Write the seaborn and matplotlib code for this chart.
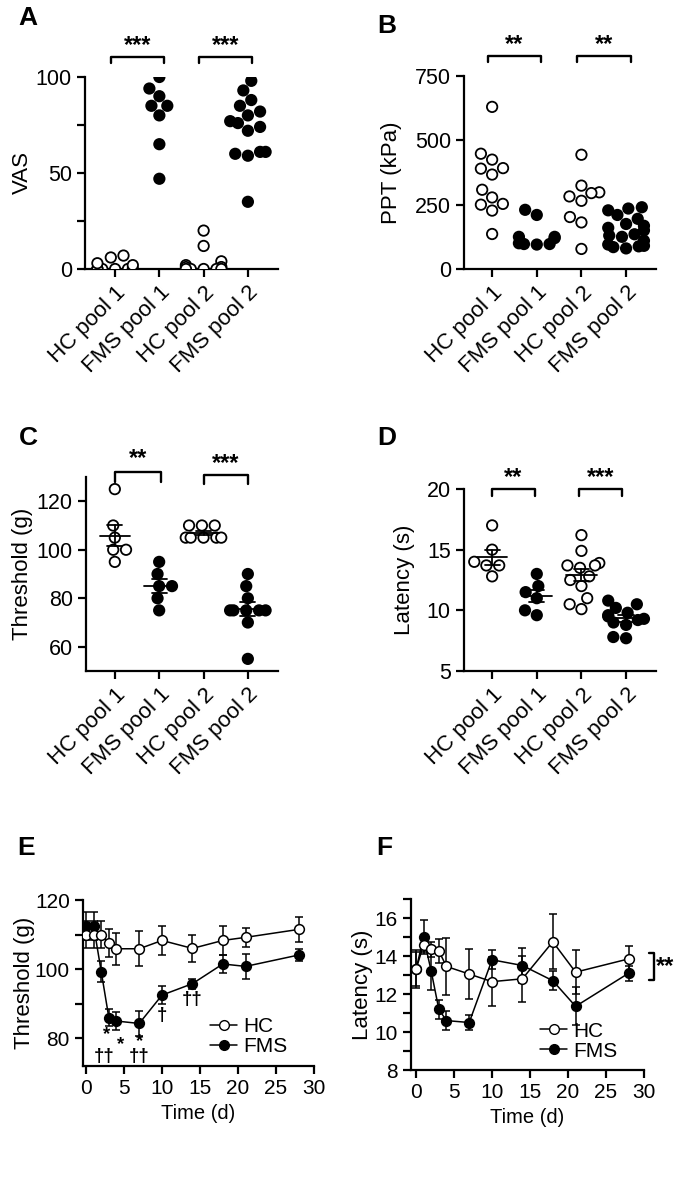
import warnings
import numpy as np
import pandas as pd
import matplotlib
matplotlib.use("Agg")
import matplotlib.pyplot as plt
import seaborn as sns
from matplotlib.lines import Line2D
from matplotlib.ticker import MultipleLocator

warnings.filterwarnings("ignore")

# ---------- DATA ----------
CATS = ["HC pool 1", "FMS pool 1", "HC pool 2", "FMS pool 2"]

VAS_HC1 = [0, 0, 0, 0, 0, 0, 2, 3, 6, 7]
VAS_FMS1 = [100, 94, 90, 85, 85, 80, 65, 47]
VAS_HC2 = [20, 12, 4, 2, 1, 1, 0, 0, 0, 0, 0]
VAS_FMS2 = [98, 93, 88, 85, 82, 80, 77, 76, 74, 72, 61, 61, 60, 59, 35]

PPT_HC1 = [630, 448, 425, 392, 390, 367, 308, 278, 253, 250, 227, 136]
PPT_FMS1 = [230, 210, 125, 125, 120, 100, 97, 97, 95]
PPT_HC2 = [444, 324, 298, 295, 282, 265, 202, 181, 78]
PPT_FMS2 = [240, 235, 228, 210, 195, 175, 168, 160, 150, 135, 130, 125,
            110, 95, 90, 88, 85, 80]

THR_HC1 = [125, 110, 105, 100, 100, 95]
THR_FMS1 = [95, 90, 85, 85, 80, 75]
THR_HC2 = [110, 110, 110, 105, 105, 105, 105, 105]
THR_FMS2 = [90, 85, 80, 75, 75, 75, 75, 75, 70, 55]

LAT_HC1 = [17, 15, 14, 13.7, 13.7, 12.8]
LAT_FMS1 = [13, 12, 11.5, 11, 10, 9.6]
LAT_HC2 = [16.2, 14.9, 13.9, 13.7, 13.7, 13.5, 12.8, 12.5, 12, 11, 10.5, 10.1]
LAT_FMS2 = [10.8, 10.5, 10.2, 9.8, 9.6, 9.5, 9.3, 9.2, 9.0, 8.8, 7.8, 7.7]

DAYS = [0, 1, 2, 3, 4, 7, 10, 14, 18, 21, 28]

E_HC_MEAN = [110, 110, 110, 107.5, 105.9, 105.9, 108.3, 106, 108.3, 109.2, 111.5]
E_HC_SEM = [4, 4, 4, 4, 4.7, 5, 4.3, 4, 4.2, 2.8, 3.6]
E_FMS_MEAN = [112.5, 112.5, 99.3, 86, 85, 84.3, 92.5, 95.8, 101.5, 100.8, 104.1]
E_FMS_SEM = [4, 4, 3, 2.5, 2.7, 3.5, 2.5, 1.5, 2.5, 3.7, 1.8]

F_HC_MEAN = [13.3, 14.6, 14.36, 14.27, 13.45, 13.05, 12.65, 12.8, 14.75, 13.15, 13.85]
F_HC_SEM = [1.0, 0.4, 0.4, 0.65, 1.5, 1.3, 1.3, 1.2, 1.45, 1.15, 0.7]
F_FMS_MEAN = [13.3, 14.98, 13.2, 11.2, 10.6, 10.5, 13.8, 13.5, 12.7, 11.35, 13.1]
F_FMS_SEM = [0.9, 0.9, 1.0, 0.5, 0.5, 0.4, 0.5, 0.9, 0.5, 1.0, 0.4]

# ---------- STYLE ----------
sns.set_theme(style="ticks")
plt.rcParams["font.family"] = ["Liberation Sans", "DejaVu Sans"]
plt.rcParams["axes.linewidth"] = 1.6
plt.rcParams["xtick.major.width"] = 1.6
plt.rcParams["ytick.major.width"] = 1.6
plt.rcParams["ytick.minor.width"] = 1.6
plt.rcParams["xtick.major.size"] = 6
plt.rcParams["ytick.major.size"] = 6
plt.rcParams["ytick.minor.size"] = 6
plt.rcParams["xtick.labelsize"] = 16
plt.rcParams["ytick.labelsize"] = 15.5
plt.rcParams["axes.labelsize"] = 16
plt.rcParams["axes.edgecolor"] = "black"
plt.rcParams["xtick.color"] = "black"
plt.rcParams["ytick.color"] = "black"
plt.rcParams["text.color"] = "black"
plt.rcParams["axes.labelcolor"] = "black"

W, H = 677, 1181
fig = plt.figure(figsize=(W / 100, H / 100), dpi=100)


def px(l, t, r, b):
    return [l / W, 1 - b / H, (r - l) / W, (b - t) / H]


PAL = {"HC pool 1": "white", "FMS pool 1": "black",
       "HC pool 2": "white", "FMS pool 2": "black"}


def make_df(groups):
    rows = []
    for cat, vals in zip(CATS, groups):
        for v in vals:
            rows.append({"group": cat, "value": v})
    return pd.DataFrame(rows)


def swarm_panel(rect, groups, ylim, yticks, ylabel, xlim):
    ax = fig.add_axes(px(*rect))
    df = make_df(groups)
    sns.swarmplot(data=df, x="group", y="value", hue="group", order=CATS,
                  hue_order=CATS, palette=PAL, edgecolor="black", linewidth=1.3,
                  size=7.5, legend=False, ax=ax)
    ax.set_ylim(*ylim)
    ax.set_xlim(*xlim)
    ax.set_yticks(yticks)
    ax.set_ylabel(ylabel)
    ax.set_xlabel("")
    ax.set_xticks(range(4))
    ax.set_xticklabels(CATS, rotation=45, ha="right", rotation_mode="anchor")
    sns.despine(ax=ax)
    return ax


def bracket(ax, x0, x1, y, drop, text, ty):
    ax.plot([x0, x0, x1, x1], [y - drop, y, y, y - drop], color="black",
            lw=1.7, clip_on=False)
    ax.text((x0 + x1) / 2, ty, text, ha="center", va="center",
            fontsize=17, fontweight="bold", clip_on=False)


def mean_sem(ax, groups):
    for i, vals in enumerate(groups):
        v = np.asarray(vals, dtype=float)
        m = v.mean()
        s = v.std(ddof=1) / np.sqrt(len(v))
        ax.plot([i - 0.34, i + 0.34], [m, m], color="black", lw=1.3, zorder=5)
        ax.plot([i, i], [m - s, m + s], color="black", lw=1.3, zorder=5)
        for yy in (m - s, m + s):
            ax.plot([i - 0.17, i + 0.17], [yy, yy], color="black", lw=1.3, zorder=5)


# ---------- A ----------
axA = swarm_panel((85, 77, 278, 269), [VAS_HC1, VAS_FMS1, VAS_HC2, VAS_FMS2],
                  (0, 100), [0, 50, 100], "VAS", (-0.68, 3.68))
axA.yaxis.set_minor_locator(MultipleLocator(25))
bracket(axA, -0.1, 1.1, 110.2, 2.8, "***", 116.5)
bracket(axA, 1.9, 3.1, 110.2, 2.8, "***", 116.5)

# ---------- B ----------
axB = swarm_panel((464, 76, 656, 269), [PPT_HC1, PPT_FMS1, PPT_HC2, PPT_FMS2],
                  (0, 750), [0, 250, 500, 750], "PPT (kPa)", (-0.63, 3.67))
bracket(axB, -0.1, 1.1, 828, 22, "**", 874)
bracket(axB, 1.9, 3.1, 828, 22, "**", 874)

# ---------- C ----------
thr_groups = [THR_HC1, THR_FMS1, THR_HC2, THR_FMS2]
axC = swarm_panel((86, 477, 278, 671), thr_groups,
                  (50, 130), [60, 80, 100, 120], "Threshold (g)", (-0.65, 3.68))
mean_sem(axC, thr_groups)
bracket(axC, 0, 1.05, 132, 4, "**", 137.5)
bracket(axC, 2, 3.0, 131, 4, "***", 135.5)

# ---------- D ----------
lat_groups = [LAT_HC1, LAT_FMS1, LAT_HC2, LAT_FMS2]
axD = swarm_panel((464, 489, 656, 671), lat_groups,
                  (5, 20), [5, 10, 15, 20], "Latency (s)", (-0.63, 3.67))
mean_sem(axD, lat_groups)
bracket(axD, 0, 0.95, 20.0, 0.6, "**", 20.95)
bracket(axD, 1.95, 2.9, 20.0, 0.6, "***", 20.95)


# ---------- E / F ----------
def time_panel(rect, hc_m, hc_s, fms_m, fms_s, ylim, yticks, ylabel):
    ax = fig.add_axes(px(*rect))
    for m, s, face in ((fms_m, fms_s, "black"), (hc_m, hc_s, "white")):
        ax.errorbar(DAYS, m, yerr=s, fmt="none", ecolor="black", elinewidth=1.1,
                    capsize=3, capthick=1.1, zorder=2)
        sns.lineplot(x=DAYS, y=m, color="black", linewidth=1.1, marker="o",
                     markersize=7, markerfacecolor=face, markeredgecolor="black",
                     markeredgewidth=1.1, ax=ax, zorder=3)
    ax.set_ylim(*ylim)
    ax.set_yticks(yticks)
    ax.set_xticks([0, 5, 10, 15, 20, 25, 30])
    ax.set_xlabel("Time (d)", fontsize=14.5)
    ax.set_ylabel(ylabel)
    ax.tick_params(axis="x", labelsize=15)
    ax.tick_params(axis="y", labelsize=15)
    sns.despine(ax=ax)
    handles = [
        Line2D([], [], color="black", lw=1.1, marker="o", markersize=7,
               markerfacecolor="white", markeredgecolor="black"),
        Line2D([], [], color="black", lw=1.1, marker="o", markersize=7,
               markerfacecolor="black", markeredgecolor="black"),
    ]
    ax.legend(handles, ["HC", "FMS"], loc="lower right",
              bbox_to_anchor=(0.95, -0.03), frameon=False, fontsize=15,
              handlelength=1.3, handletextpad=0.3, labelspacing=0.05,
              borderpad=0.2)
    return ax


axE = time_panel((83, 900, 314, 1066), E_HC_MEAN, E_HC_SEM, E_FMS_MEAN, E_FMS_SEM,
                 (72, 120), [80, 100, 120], "Threshold (g)")
axE.set_xlim(-0.4, 30)
axE.yaxis.set_minor_locator(MultipleLocator(10))
for x, y, t in [(2.7, 81.0, "*"), (4.6, 78.3, "*"), (7.1, 79.2, "*"),
                (2.4, 74.8, "††"), (7.0, 74.8, "††"), (10.0, 86.5, "†"),
                (14.0, 91.3, "††")]:
    axE.text(x, y, t, ha="center", va="center", fontsize=13.5, fontweight="bold")

axF = time_panel((411, 899, 644, 1070), F_HC_MEAN, F_HC_SEM, F_FMS_MEAN, F_FMS_SEM,
                 (8, 17), [8, 10, 12, 14, 16], "Latency (s)")
axF.set_xlim(-0.66, 30)
axF.yaxis.set_minor_locator(MultipleLocator(1))
axF.plot([30.6, 31.3, 31.3, 30.6], [14.15, 14.15, 12.75, 12.75], color="black",
         lw=1.7, clip_on=False)
axF.text(31.6, 13.45, "**", ha="left", va="center", fontsize=17,
         fontweight="bold", clip_on=False)

# ---------- panel letters ----------
for x, y, t in [(28, 18, "A"), (387, 26, "B"), (28, 438, "C"), (387, 438, "D"),
                (26, 848, "E"), (384, 848, "F")]:
    fig.text(x / W, 1 - y / H, t, ha="center", va="center", fontsize=19,
             fontweight="bold")

axA.yaxis.set_label_coords(-0.27, 0.5)
axB.yaxis.set_label_coords(-0.323, 0.5)
axC.yaxis.set_label_coords(-0.276, 0.5)
axD.yaxis.set_label_coords(-0.255, 0.5)
axE.yaxis.set_label_coords(-0.208, 0.5)
axF.yaxis.set_label_coords(-0.163, 0.5)

fig.savefig("out.png", dpi=100)
